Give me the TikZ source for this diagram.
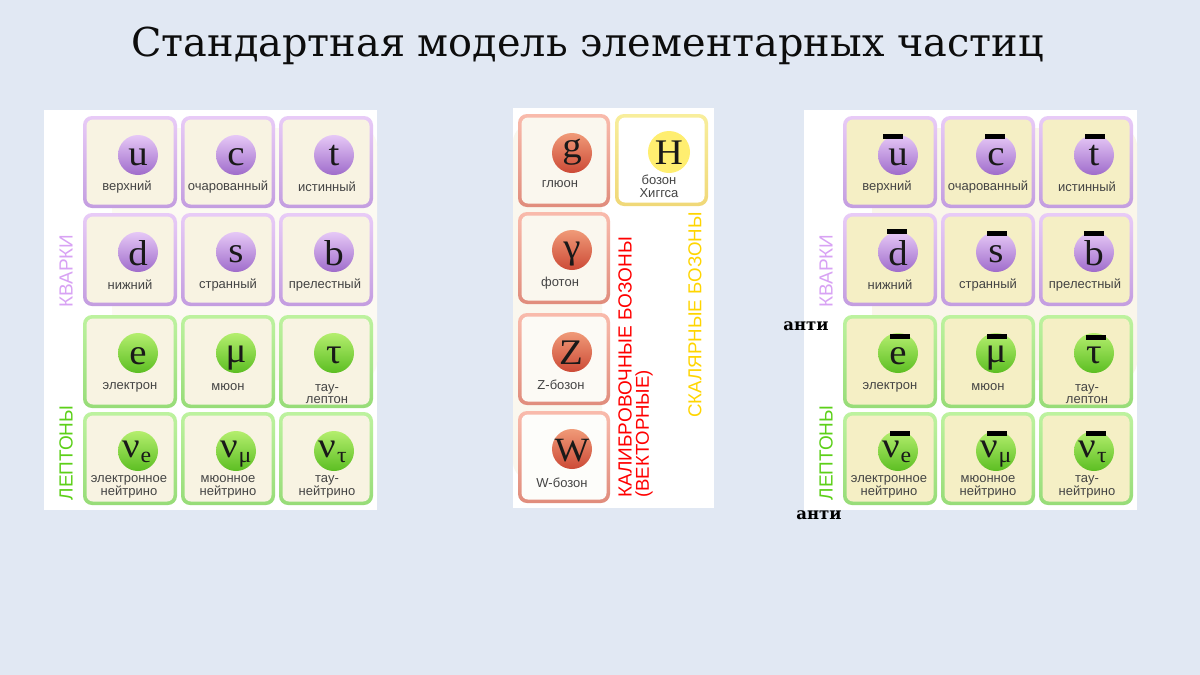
\documentclass[tikz,border=0pt]{standalone}
\usepackage{fontspec}
\setmainfont{Liberation Sans}
\newfontfamily\titlefont{DejaVu Serif}
\newfontfamily\symfont[FakeStretch=1.08]{Liberation Serif}
\newfontfamily\antifont{DejaVu Serif}
\definecolor{slidebg}{HTML}{E1E8F3}
\definecolor{beigeL}{HTML}{F8F3E2}
\definecolor{beigeR}{HTML}{F5EFC5}
\definecolor{softL}{HTML}{FCFAF2}
\definecolor{softR}{HTML}{FAF6EA}
\definecolor{softM}{HTML}{FAF7EE}
\definecolor{purT}{HTML}{E8CBF7}
\definecolor{purB}{HTML}{C39DE0}
\definecolor{grnT}{HTML}{BDF29F}
\definecolor{grnB}{HTML}{97DC78}
\definecolor{redT}{HTML}{F9BBAC}
\definecolor{redB}{HTML}{E08C7C}
\definecolor{yelT}{HTML}{F8EE9C}
\definecolor{yelB}{HTML}{F0D878}
\definecolor{labelgrey}{HTML}{444444}
\definecolor{quarklabel}{HTML}{D8A2F4}
\definecolor{leptonlabel}{HTML}{5CD018}
\definecolor{scalarlabel}{HTML}{FFD500}
\definecolor{qT}{HTML}{E6C8F6}
\definecolor{qB}{HTML}{9F6CCB}
\definecolor{lT}{HTML}{B4EE6E}
\definecolor{lB}{HTML}{5CBE22}
\definecolor{gT}{HTML}{F09A78}
\definecolor{gB}{HTML}{CC4A36}
\definecolor{hT}{HTML}{FFEE70}
\tikzset{
  x=1pt,y=-1pt,
  caption/.style={font=\fontsize{13}{13.3}\selectfont,text=labelgrey,align=center,inner sep=0pt,anchor=center},
  sym/.style={font=\fontsize{36}{36}\symfont,text=black!90,inner sep=0pt,anchor=base},
  subsym/.style={font=\fontsize{22}{22}\symfont,text=black!90,inner sep=0pt,anchor=base},
  ball/.style={circle,minimum size=40pt,inner sep=0pt,shading angle=-25},
  side/.style={font=\fontsize{19}{20}\selectfont,rotate=90,inner sep=0pt,align=center},
  antilabel/.style={font=\fontsize{16.5}{17}\antifont\bfseries,text=black,inner sep=0pt},
  antibar/.style={fill=black},
  qball/.style={ball,top color=qT,bottom color=qB},
  lball/.style={ball,top color=lT,bottom color=lB},
  gball/.style={ball,top color=gT,bottom color=gB},
  hball/.style={circle,inner sep=0pt,fill=hT,minimum size=42pt},
}
% name x1 y1 x2 y2 topcolor bottomcolor fill
\newcommand\cellbox[8]{%
  \shade[top color=#6,bottom color=#7,rounded corners=9pt] (#2,#3) rectangle (#4,#5);
  \fill[#8,rounded corners=6.5pt] (#2+3.5,#3+3.5) rectangle (#4-3.5,#5-3.5);
  \coordinate (#1) at ({(#2+#4)/2},{(#3+#5)/2});
}
% name x y style
\newcommand\pball[4]{\node[#4] (#1) at (#2,#3) {};}
\newcommand\fermions{%
  \fill[white] (44,110) rectangle (377,510);
  \fill[\softfill,rounded corners=18pt] (112,128) rectangle (377,380);
  \foreach \n/\xa/\ya/\xb/\yb/\t/\b in {
    cu/83/116/177/208/purT/purB, cc/181/116/275/208/purT/purB, ct/279/116/373/208/purT/purB,
    cd/83/213/177/306/purT/purB, cs/181/213/275/306/purT/purB, cb/279/213/373/306/purT/purB,
    ce/83/315/177/408/grnT/grnB, cm/181/315/275/408/grnT/grnB, cy/279/315/373/408/grnT/grnB,
    cne/83/412/177/505/grnT/grnB, cnm/181/412/275/505/grnT/grnB, cny/279/412/373/505/grnT/grnB}
    {\cellbox{\n}{\xa}{\ya}{\xb}{\yb}{\t}{\b}{\cellfill}}
  \foreach \n/\x/\y/\s in {
    bu/138/155/qball, bc/236/155/qball, bt/334/155/qball,
    bd/138/252/qball, bs/236/252/qball, bb/334/252/qball,
    be/138/353/lball, bm/236/353/lball, by/334/353/lball,
    bne/138/451/lball, bnm/236/451/lball, bny/334/451/lball}
    {\pball{\n}{\x}{\y}{\s}}
  \node[sym] (su) at (138,165) {u};
  \node[sym] (sc) at (236,165) {c};
  \node[sym] (st) at (334,165) {t};
  \node[sym] (sd) at (138,265) {d};
  \node[sym] (ss) at (236,262) {s};
  \node[sym] (sb) at (334,265) {b};
  \node[sym] (se) at (138,364) {e};
  \node[sym] (sm) at (236,362) {μ};
  \node[sym] (sy) at (334,363) {τ};
  \node[sym] (sne) at (131,457) {ν};
  \node[subsym] (xne) at (146,462) {e};
  \node[sym] (snm) at (229,457) {ν};
  \node[subsym] (xnm) at (245,462) {μ};
  \node[sym] (sny) at (327,457) {ν};
  \node[subsym] (xny) at (342,462) {τ};
  \node[caption] (lu) at (127,187) {верхний};
  \node[caption] (lc) at (228,187) {очарованный};
  \node[caption] (lt) at (327,187) {истинный};
  \node[caption] (ld) at (130,285) {нижний};
  \node[caption] (ls) at (228,285) {странный};
  \node[caption] (lb) at (325,285) {прелестный};
  \node[caption] (le) at (130,387) {электрон};
  \node[caption] (lm) at (228,387) {мюон};
  \node[caption] (ly) at (327,394) {тау-\\[-2pt]лептон};
  \node[caption] (lne) at (129,487) {электронное\\нейтрино};
  \node[caption] (lnm) at (228,487) {мюонное\\нейтрино};
  \node[caption] (lny) at (327,487) {тау-\\нейтрино};
  \node[side,text=quarklabel] (kv) at (66,271) {КВАРКИ};
  \node[side,text=leptonlabel] (lp) at (66,453) {ЛЕПТОНЫ};
}
\begin{document}
\begin{tikzpicture}
\useasboundingbox (0,0) rectangle (1200,675);
\fill[slidebg] (0,0) rectangle (1200,675);
\node[font=\fontsize{39.8}{40}\titlefont,text=black!95,inner sep=0pt] (title) at (587.5,46) {Стандартная модель элементарных частиц};
% left panel
\begin{scope}[name prefix=L-]
  \def\softfill{softL}\def\cellfill{beigeL}
  \fermions
\end{scope}
% right panel
\begin{scope}[xshift=760pt,name prefix=R-]
  \def\softfill{softR}\def\cellfill{beigeR}
  \fermions
\end{scope}
\foreach \n/\xa/\ya in {
  u/883/134, c/985/134, t/1085/134,
  d/887/229, s/987/231, b/1084/231,
  e/890/334, m/987/334, y/1086/335,
  ne/890/431, nm/987/431, ny/1086/431}
  {\fill[antibar] (\xa,\ya) rectangle (\xa+20,\ya+5);}
\node[antilabel] (anti1) at (806,326) {анти};
\node[antilabel] (anti2) at (819,515) {анти};
% middle panel
\fill[white] (513,108) rectangle (714,508);
\fill[softM,rounded corners=18pt] (513,124) rectangle (602,480);
\foreach \n/\xa/\ya/\xb/\yb/\f in {
  cg/518/114/610/207/softM, cp/518/212/610/304/softM, cz/518/313/610/405/softM!60!white, cw/518/411/610/503/softM!30!white}
  {\cellbox{\n}{\xa}{\ya}{\xb}{\yb}{redT}{redB}{\f}}
\cellbox{ch}{615}{114}{708}{206}{yelT}{yelB}{white}
\foreach \n/\y in {bg/153, bp/250, bz/352, bw/449}
  {\pball{\n}{572}{\y}{gball}}
\node[hball] (bh) at (669,152) {};
\node[sym] (sg) at (572,157) {g};
\node[sym] (sp) at (572,258) {γ};
\node[sym] (sz) at (571,364) {Z};
\node[sym,font=\fontsize{34}{34}\symfont] (sw) at (572,461) {W};
\node[sym] (sh) at (669,164) {H};
\node[caption] (lg) at (560,184) {глюон};
\node[caption] (lp) at (560,283) {фотон};
\node[caption] (lz) at (561,385) {Z-бозон};
\node[caption] (lw) at (562,483) {W-бозон};
\node[caption] (lh) at (659,186) {бозон\\Хиггса};
\node[side,text=red,anchor=west] (gauge1) at (625,498) {КАЛИБРОВОЧНЫЕ БОЗОНЫ};
\node[side,text=red,anchor=west,font=\fontsize{18.6}{20}\selectfont] (gauge2) at (644,498) {(ВЕКТОРНЫЕ)};
\node[side,text=scalarlabel,anchor=west,font=\fontsize{18.7}{20}\selectfont] (scalar) at (695,418) {СКАЛЯРНЫЕ БОЗОНЫ};
\end{tikzpicture}
\end{document}
